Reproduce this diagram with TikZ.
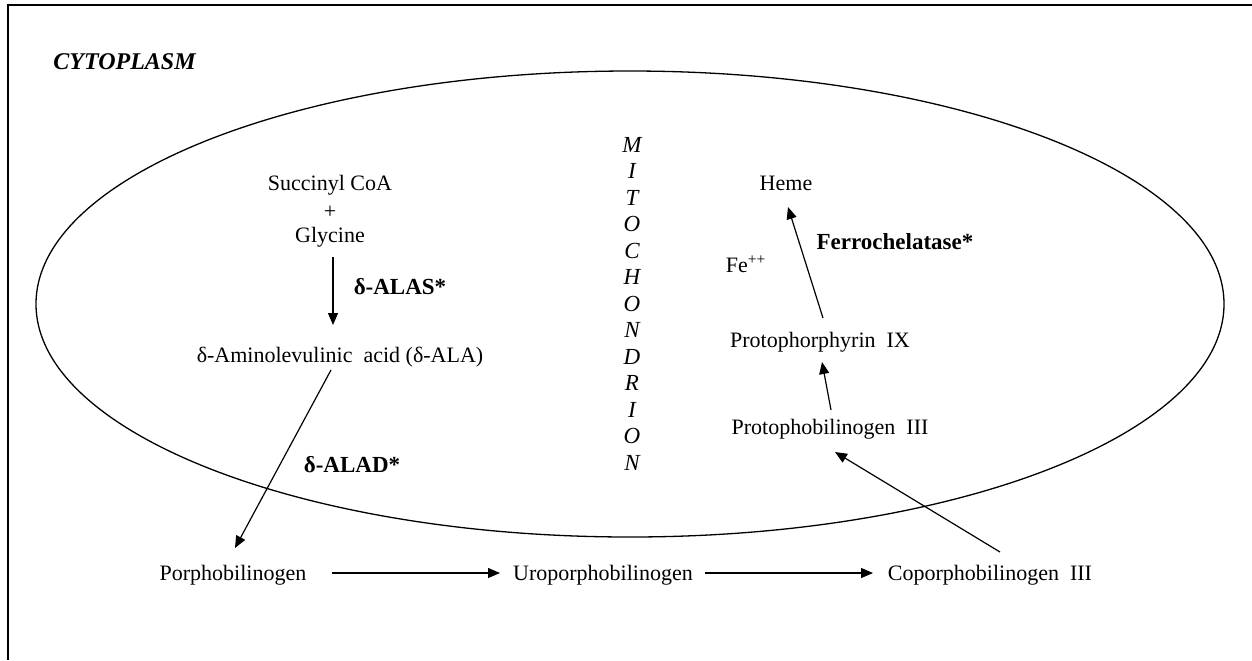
\documentclass[tikz,border=0pt]{standalone}
\usepackage{fontspec}
\setmainfont{Liberation Serif}
\usetikzlibrary{arrows.meta,calc}
\begin{document}
\begin{tikzpicture}[x=0.5pt,y=-0.5pt,
  lbl/.style={inner sep=0pt, text height=8pt, text depth=2.5pt, font=\fontsize{11}{13}\selectfont},
  enz/.style={lbl, font=\fontsize{11.5}{13}\selectfont\bfseries},
  arr/.style={-{Triangle[length=6pt,width=5pt]}, line width=0.6pt},
  frameline/.style={line width=1pt},
  membrane/.style={line width=0.65pt},
]
\useasboundingbox (0,0) rectangle (1252,660);
% frame
\draw[frameline] (8,660) -- (8,5) -- (1252,5);
% mitochondrion outline
\draw[membrane] (630,304) ellipse [x radius=297pt, y radius=116.5pt];
% labels
\node[anchor=west, inner sep=0pt, font=\fontsize{12}{14}\selectfont\bfseries\itshape] (cyto) at (53,62) {CYTOPLASM};
\node[anchor=north, inner sep=0pt, align=center, font=\fontsize{11.5}{13.25}\selectfont\itshape] (mito) at (632,137)
  {M\\I\\T\\O\\C\\H\\O\\N\\D\\R\\I\\O\\N};
\node[lbl] (succ) at (330,185) {Succinyl CoA};
\node[lbl] (plus) at (330,213) {+};
\node[lbl] (gly) at (330,237) {Glycine};
\node[enz] (alas) at (400,289) {δ-ALAS*};
\node[lbl] (ala) at (340,357) {δ-Aminolevulinic\ \ acid (δ-ALA)};
\node[enz] (alad) at (352,467) {δ-ALAD*};
\node[lbl] (porpho) at (233,575) {Porphobilinogen};
\node[lbl] (uro) at (603,575) {Uroporphobilinogen};
\node[lbl] (copro) at (990,575) {Coporphobilinogen\ \ III};
\node[lbl] (p3) at (830,429) {Protophobilinogen\ \ III};
\node[lbl] (p9) at (820,342) {Protophorphyrin\ \ IX};
\node[lbl] (heme) at (786,185) {Heme};
\node[enz] (ferro) at (895,244) {Ferrochelatase*};
\node[lbl] (fe) at (746,267) {Fe\textsuperscript{++}};
% connectors
\draw[arr] ($(gly)+(3,20)$) -- ($(ala)+(-7,-32)$);
\draw[arr] ($(ala)+(-9,13)$) -- ($(porpho)+(2,-27)$);
\draw[arr] ($(porpho)+(99,-2)$) -- ($(uro)+(-103,-2)$);
\draw[arr] ($(uro)+(102,-2)$) -- ($(copro)+(-117,-2)$);
\draw[arr] ($(copro)+(10,-23)$) -- ($(p3)+(5,23)$);
\draw[arr] ($(p3)+(1,-19)$) -- ($(p9)+(2,20)$);
\draw[arr] ($(p9)+(3,-24)$) -- ($(heme)+(2,22)$);
\end{tikzpicture}
\end{document}
